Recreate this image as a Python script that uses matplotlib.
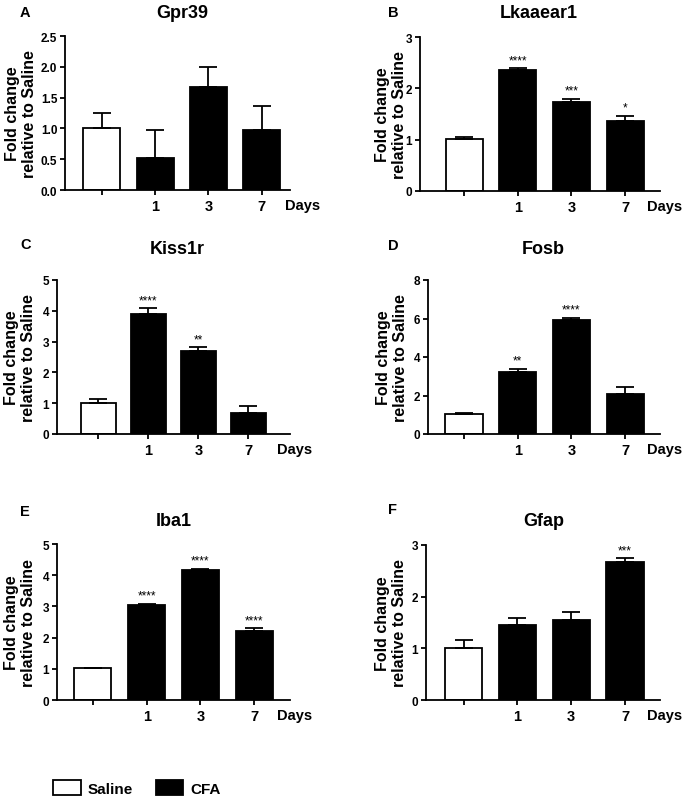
import matplotlib
matplotlib.use('Agg')
import matplotlib.pyplot as plt
from matplotlib.patches import Patch

plt.rcParams['font.family'] = ['Liberation Sans', 'DejaVu Sans']
plt.rcParams['font.weight'] = 'bold'

W, H = 686, 803

# x categories: saline (no label) then CFA days
day_labels = ['', '1', '3', '7']
colors = ['white', 'black', 'black', 'black']

genes = ['Gpr39', 'Lkaaear1', 'Kiss1r', 'Fosb', 'Iba1', 'Gfap']
letters = ['A', 'B', 'C', 'D', 'E', 'F']

# mean fold change and upper SEM
gpr39_mean = [1.00, 0.52, 1.67, 0.97]
gpr39_err = [0.25, 0.46, 0.33, 0.39]
lkaaear1_mean = [1.01, 2.35, 1.74, 1.37]
lkaaear1_err = [0.04, 0.05, 0.06, 0.10]
kiss1r_mean = [1.00, 3.89, 2.70, 0.69]
kiss1r_err = [0.13, 0.19, 0.12, 0.23]
fosb_mean = [1.02, 3.20, 5.92, 2.07]
fosb_err = [0.06, 0.20, 0.13, 0.38]
iba1_mean = [1.01, 3.06, 4.18, 2.21]
iba1_err = [0.02, 0.03, 0.03, 0.10]
gfap_mean = [1.01, 1.46, 1.55, 2.67]
gfap_err = [0.16, 0.13, 0.15, 0.08]

gpr39_sig = ['', '', '', '']
lkaaear1_sig = ['', '****', '***', '*']
kiss1r_sig = ['', '****', '**', '']
fosb_sig = ['', '**', '****', '']
iba1_sig = ['', '****', '****', '****']
gfap_sig = ['', '', '', '***']

means = [gpr39_mean, lkaaear1_mean, kiss1r_mean, fosb_mean, iba1_mean, gfap_mean]
errs = [gpr39_err, lkaaear1_err, kiss1r_err, fosb_err, iba1_err, gfap_err]
sigs = [gpr39_sig, lkaaear1_sig, kiss1r_sig, fosb_sig, iba1_sig, gfap_sig]
yticks = [[0, 0.5, 1.0, 1.5, 2.0, 2.5], [0, 1, 2, 3], [0, 1, 2, 3, 4, 5],
          [0, 2, 4, 6, 8], [0, 1, 2, 3, 4, 5], [0, 1, 2, 3]]
ytick_fmt = ['{:.1f}', '{:d}', '{:d}', '{:d}', '{:d}', '{:d}']

# layout in pixels: left, right, top(ymax), zero line; x limits
rects = [(65, 290, 37, 191), (420, 660, 38, 192),
         (57, 290, 281, 435), (428, 660, 281, 435),
         (57, 290, 545, 701), (426, 660, 546, 701)]
xlims = [(-0.69, 3.53), (-0.82, 3.65), (-0.83, 3.83),
         (-0.67, 3.65), (-0.67, 3.67), (-0.70, 3.65)]
ylab_x = [21, 391, 20, 392, 20, 391]
letter_pos = [(20, 13), (388, 13), (20, 245), (388, 246), (20, 512), (388, 510)]
title_pos = [(182, 13), (539, 13), (177, 249), (543, 249), (174, 521), (544, 521)]
days_x = [285, 647, 277, 647, 277, 647]

fig = plt.figure(figsize=(W / 100, H / 100), dpi=100)
lw = 1.3

for i in range(6):
    l, r, t, z = rects[i]
    ax = fig.add_axes([l / W, 1 - z / H, (r - l) / W, (z - t) / H])
    x = list(range(4))
    ax.bar(x, means[i], width=0.69, color=colors, edgecolor='black',
           linewidth=lw, zorder=2)
    ax.errorbar(x, means[i], yerr=[[0] * 4, errs[i]], fmt='none',
                ecolor='black', elinewidth=lw, capsize=6.5, capthick=lw,
                zorder=3)
    for xi, m, e, s in zip(x, means[i], errs[i], sigs[i]):
        if s:
            ax.annotate(s, (xi, m + e), xytext=(0, 3.5), textcoords='offset points',
                        ha='center', va='baseline', fontsize=8.5,
                        fontweight='normal')
    ax.set_xlim(*xlims[i])
    ax.set_ylim(yticks[i][0], yticks[i][-1])
    ax.set_yticks(yticks[i])
    ax.set_yticklabels([ytick_fmt[i].format(v) for v in yticks[i]],
                       fontsize=8.5, fontweight='bold')
    ax.set_xticks(x)
    ax.set_xticklabels(day_labels, fontsize=10.5, fontweight='bold')
    for side in ['top', 'right']:
        ax.spines[side].set_visible(False)
    for side in ['left', 'bottom']:
        ax.spines[side].set_linewidth(lw)
    ax.tick_params(axis='both', direction='out', length=3.5, width=lw)
    ax.tick_params(axis='x', pad=3)
    ax.tick_params(axis='y', pad=2)

    fig.text(ylab_x[i] / W, 1 - (t + z) / 2 / H, 'Fold change\nrelative to Saline',
             rotation=90, ha='center', va='center', fontsize=11.5,
             fontweight='bold', linespacing=1.15)
    fig.text(letter_pos[i][0] / W, 1 - letter_pos[i][1] / H, letters[i],
             ha='left', va='center', fontsize=10.5, fontweight='bold')
    fig.text(title_pos[i][0] / W, 1 - title_pos[i][1] / H, genes[i],
             ha='center', va='center', fontsize=13, fontweight='bold')
    fig.text(days_x[i] / W, 1 - (z + 15) / H, 'Days',
             ha='left', va='center', fontsize=10.5, fontweight='bold')

handles = [Patch(facecolor='white', edgecolor='black', linewidth=lw),
           Patch(facecolor='black', edgecolor='black', linewidth=lw)]
fig.legend(handles, ['Saline', 'CFA'], loc='center left',
           bbox_to_anchor=(53 / W, 1 - 789 / H), ncol=2, frameon=False,
           handlelength=1.8, handleheight=1.05,
           handletextpad=0.45, columnspacing=1.5, borderpad=0,
           borderaxespad=0, prop={'weight': 'bold', 'size': 11})

fig.savefig('out.png', dpi=100)
